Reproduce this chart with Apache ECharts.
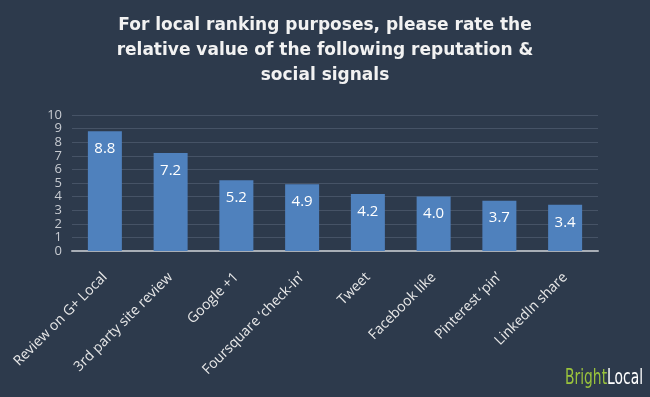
<!DOCTYPE html>
<html>
<head>
<meta charset="utf-8">
<script src="https://cdn.jsdelivr.net/npm/echarts@6/dist/echarts.min.js"></script>
<style>
  html, body { margin: 0; padding: 0; background: #2d3a4c; }
  #container { width: 650px; height: 397px; }
</style>
</head>
<body>
<div id="container"></div>
<script>
const categories = ['Review on G+ Local', '3rd party site review', 'Google +1', 'Foursquare \u2018check-in\u2019',
  'Tweet', 'Facebook like', 'Pinterest \u2018pin\u2019', 'LinkedIn share'];
const values = [8.8, 7.2, 5.2, 4.9, 4.2, 4.0, 3.7, 3.4];
const yTicks = [0, 10, 1];

let chart = echarts.init(document.getElementById('container'));

chart.setOption({
  backgroundColor: '#2d3a4c',
  title: {
    text: 'For local ranking purposes, please rate the\nrelative value of the following reputation &\nsocial signals',
    left: 'center',
    top: 8,
    textStyle: {
      color: '#f2f2f2',
      fontFamily: 'DejaVu Sans',
      fontWeight: 'bold',
      fontSize: 17,
      lineHeight: 25
    }
  },
  grid: { left: 72, right: 52, top: 115, bottom: 146 },
  xAxis: {
    type: 'category',
    data: categories,
    axisLine: { lineStyle: { color: '#a8aeb6', width: 2 } },
    axisTick: { show: false },
    axisLabel: {
      rotate: 45,
      interval: 0,
      color: '#e8e8e8',
      fontFamily: 'Open Sans',
      fontSize: 14,
      margin: 24
    }
  },
  yAxis: {
    type: 'value',
    min: yTicks[0],
    max: yTicks[1],
    interval: yTicks[2],
    axisLine: { show: false },
    axisTick: { show: false },
    axisLabel: {
      color: '#c8ccd2',
      fontFamily: 'Open Sans',
      fontSize: 13,
      lineHeight: 12,
      margin: 10
    },
    splitLine: { lineStyle: { color: '#465366', width: 1 } }
  },
  series: [{
    type: 'bar',
    data: values,
    barWidth: 34,
    itemStyle: { color: '#4f81bd' },
    label: {
      show: true,
      position: 'insideTop',
      distance: 10,
      color: '#ffffff',
      fontFamily: 'Open Sans',
      fontSize: 15,
      formatter: (p) => p.value.toFixed(1)
    }
  }],
  graphic: [{
    type: 'text',
    x: 565,
    y: 368,
    scaleX: 0.66,
    style: {
      x: 0,
      y: 0,
      text: '{g|Bright}{w|Local}',
      rich: {
        g: { fill: '#9ac33c', fontFamily: 'DejaVu Sans', fontSize: 21 },
        w: { fill: '#ffffff', fontFamily: 'DejaVu Sans', fontSize: 21 }
      }
    }
  }]
});
</script>
</body>
</html>
